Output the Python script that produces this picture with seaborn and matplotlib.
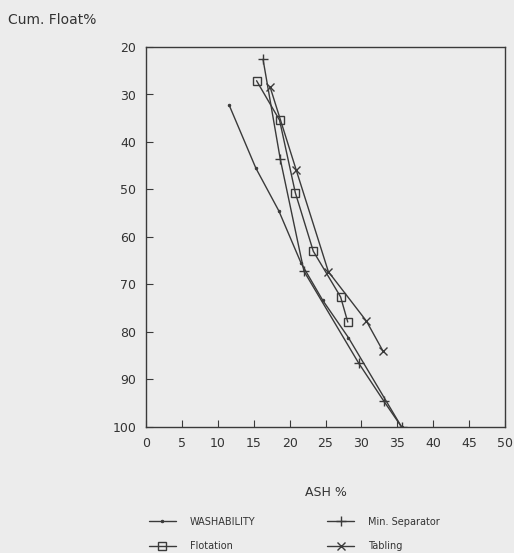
import matplotlib
matplotlib.use("Agg")
import matplotlib.pyplot as plt
import seaborn as sns
import pandas as pd

wash_ash = [11.6, 15.3, 18.5, 21.6, 24.6, 28.2, 35.6]
wash_float = [32.3, 45.5, 54.5, 65.5, 73.3, 81.2, 100.0]

minsep_ash = [16.3, 18.7, 22.0, 29.6, 33.1, 35.6]
minsep_float = [22.6, 43.6, 67.2, 86.5, 94.5, 100.0]

flot_ash = [15.4, 18.6, 20.8, 23.3, 27.1, 28.1]
flot_float = [27.1, 35.4, 50.7, 63.0, 72.6, 77.9]

tab_ash = [17.3, 20.9, 25.4, 30.7, 33.0]
tab_float = [28.5, 45.8, 67.3, 77.7, 84.0]

x_ticks = [0, 5, 10, 15, 20, 25, 30, 35, 40, 45, 50]
y_ticks = [20, 30, 40, 50, 60, 70, 80, 90, 100]

sns.set_style("ticks")
plt.rcParams['font.family'] = ['DejaVu Sans']

bg = '#ececec'
fig = plt.figure(figsize=(5.14, 5.53), dpi=100, facecolor=bg)
ax = fig.add_axes([146/514, 1 - 427/553, (505-146)/514, (427-47)/553])
ax.set_facecolor(bg)

lc = '#3a3a3a'
series = [
    ("WASHABILITY", wash_ash, wash_float, dict(marker='.', markersize=3.5)),
    ("Flotation", flot_ash, flot_float, dict(marker='s', markersize=5.5, markerfacecolor='none', markeredgewidth=1.0)),
    ("Min. Separator", minsep_ash, minsep_float, dict(marker='+', markersize=7, markeredgewidth=1.0)),
    ("Tabling", tab_ash, tab_float, dict(marker='x', markersize=6, markeredgewidth=1.0)),
]
for name, xs, ys, kw in series:
    df = pd.DataFrame({"ash": xs, "flt": ys})
    sns.lineplot(data=df, x="ash", y="flt", sort=False, estimator=None, ax=ax,
                 color=lc, linewidth=1.0, label=name, markeredgecolor=lc, **kw)

ax.set_xlim(0, 50)
ax.set_ylim(100, 20)
ax.set_xticks(x_ticks)
ax.set_yticks(y_ticks)
ax.tick_params(direction='in', length=5, color=lc, labelsize=9, labelcolor='#333333', pad=7)
for s in ax.spines.values():
    s.set_color(lc)
    s.set_linewidth(1.0)
ax.set_xlabel("ASH %", fontsize=9, color='#333333', labelpad=26)
ax.set_ylabel("")
fig.text(8/514, 1 - 20/553, "Cum. Float%", fontsize=10, color='#333333', va='center', ha='left')

leg = ax.legend(ncol=2, loc='upper left', bbox_to_anchor=(140/514, 1 - 508/553),
                bbox_transform=fig.transFigure, frameon=False, fontsize=7,
                handlelength=2.8, handletextpad=1.4, columnspacing=7.4, labelspacing=1.5)
for t in leg.get_texts():
    t.set_color('#333333')

fig.savefig("out.png", dpi=100, facecolor=bg)
